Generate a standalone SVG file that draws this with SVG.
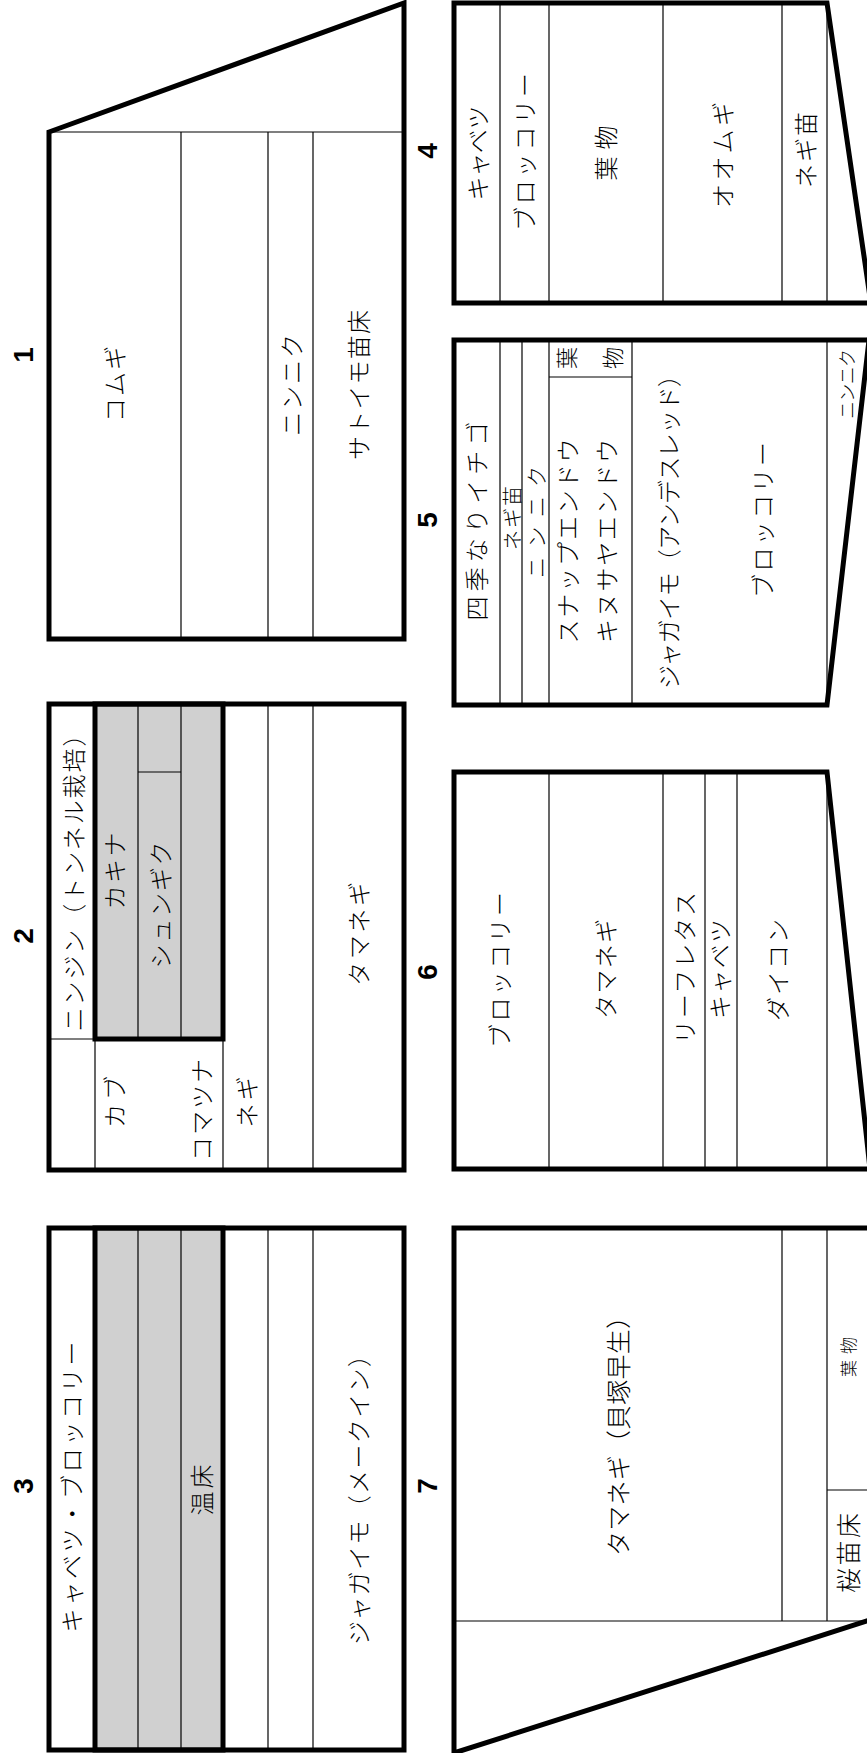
<svg xmlns="http://www.w3.org/2000/svg" width="867" height="1753" viewBox="0 0 867 1753">
<style>
.bg{fill:#ffffff}
.thick{fill:none;stroke:#000;stroke-width:5;stroke-linejoin:miter;stroke-linecap:square}
.thin{fill:none;stroke:#000;stroke-width:1.2}
.gray{fill:#d0d0d0;stroke:#000;stroke-width:5}
.t{font-family:"Noto Sans CJK JP","Noto Sans",sans-serif;font-size:24px;font-weight:300;fill:#000;text-anchor:middle;dominant-baseline:central}
.s{font-size:17px}
.m{font-size:25px}
.n{font-family:"Liberation Sans",Arial,sans-serif;font-size:28px;font-weight:bold;fill:#000;text-anchor:middle;dominant-baseline:central}
</style>
<rect class="bg" x="0" y="0" width="867" height="1753"/>

<g id="labels">
<text class="n" transform="translate(23,355) rotate(-90)">1</text>
<text class="n" transform="translate(23,936) rotate(-90)">2</text>
<text class="n" transform="translate(23,1486) rotate(-90)">3</text>
<text class="n" transform="translate(427,151) rotate(-90)">4</text>
<text class="n" transform="translate(427,520) rotate(-90)">5</text>
<text class="n" transform="translate(427,972) rotate(-90)">6</text>
<text class="n" transform="translate(427,1486) rotate(-90)">7</text>
</g>

<g id="plot1">
<line class="thin" x1="49" y1="132" x2="404" y2="132"/>
<line class="thin" x1="181" y1="132" x2="181" y2="639"/>
<line class="thin" x1="268" y1="132" x2="268" y2="639"/>
<line class="thin" x1="313" y1="132" x2="313" y2="639"/>
<path class="thick" d="M49,132 L404,3 L404,639 L49,639 Z"/>
<text class="t" transform="translate(113,384) rotate(-90)" textLength="76">コムギ</text>
<text class="t" transform="translate(290,385) rotate(-90)" textLength="102">ニンニク</text>
<text class="t" transform="translate(357,385) rotate(-90)" textLength="150">サトイモ苗床</text>
</g>

<g id="plot2">
<line class="thin" x1="49" y1="1039" x2="95" y2="1039"/>
<line class="thin" x1="95" y1="1039" x2="95" y2="1170"/>
<line class="thin" x1="223" y1="1039" x2="223" y2="1170"/>
<line class="thin" x1="268" y1="704" x2="268" y2="1170"/>
<line class="thin" x1="313" y1="704" x2="313" y2="1170"/>
<rect class="gray" x="95" y="704" width="128" height="335"/>
<line class="thin" x1="138" y1="704" x2="138" y2="1039"/>
<line class="thin" x1="181" y1="704" x2="181" y2="1039"/>
<line class="thin" x1="138" y1="772" x2="181" y2="772"/>
<rect class="thick" x="49" y="704" width="355" height="466"/>
<text class="t" transform="translate(72,877) rotate(-90)" textLength="309">ニンジン（トンネル栽培）</text>
<text class="t" transform="translate(113,871) rotate(-90)" textLength="77">カキナ</text>
<text class="t" transform="translate(159,905) rotate(-90)" textLength="127">シュンギク</text>
<text class="t" transform="translate(113,1102) rotate(-90)" textLength="52">カブ</text>
<text class="t" transform="translate(200,1110) rotate(-90)" textLength="102">コマツナ</text>
<text class="t" transform="translate(245,1102) rotate(-90)" textLength="51">ネギ</text>
<text class="t" transform="translate(357,934) rotate(-90)" textLength="104">タマネギ</text>
</g>

<g id="plot3">
<line class="thin" x1="268" y1="1228" x2="268" y2="1750"/>
<line class="thin" x1="313" y1="1228" x2="313" y2="1750"/>
<rect class="gray" x="95" y="1228" width="128" height="522"/>
<line class="thin" x1="138" y1="1228" x2="138" y2="1750"/>
<line class="thin" x1="181" y1="1228" x2="181" y2="1750"/>
<rect class="thick" x="49" y="1228" width="355" height="522"/>
<text class="t" transform="translate(70,1487) rotate(-90)" textLength="291">キャベツ・ブロッコリー</text>
<text class="t" transform="translate(200,1490) rotate(-90)" textLength="51">温床</text>
<text class="t" transform="translate(357,1494) rotate(-90)" textLength="302">ジャガイモ（メークイン）</text>
</g>

<g id="plot4">
<line class="thin" x1="500" y1="3" x2="500" y2="303"/>
<line class="thin" x1="549" y1="3" x2="549" y2="303"/>
<line class="thin" x1="663" y1="3" x2="663" y2="303"/>
<line class="thin" x1="782" y1="3" x2="782" y2="303"/>
<line class="thin" x1="827" y1="3" x2="827" y2="303"/>
<path class="thick" d="M871,304 L827,3 L454,3 L454,303 L870,303"/>
<text class="t" transform="translate(476,153) rotate(-90)" textLength="95">キャベツ</text>
<text class="t" transform="translate(523,152) rotate(-90)" textLength="158">ブロッコリー</text>
<text class="t" transform="translate(604,153) rotate(-90)" textLength="55">葉物</text>
<text class="t" transform="translate(721,155) rotate(-90)" textLength="106">オオムギ</text>
<text class="t" transform="translate(804,150) rotate(-90)" textLength="76">ネギ苗</text>
</g>

<g id="plot5">
<line class="thin" x1="500" y1="340" x2="500" y2="705"/>
<line class="thin" x1="522" y1="340" x2="522" y2="705"/>
<line class="thin" x1="549" y1="340" x2="549" y2="705"/>
<line class="thin" x1="632" y1="340" x2="632" y2="705"/>
<line class="thin" x1="827" y1="340" x2="827" y2="705"/>
<line class="thin" x1="549" y1="377" x2="632" y2="377"/>
<path class="thick" d="M870,340 L454,340 L454,705 L827,705 L869,340"/>
<text class="t" transform="translate(475,521) rotate(-90)" textLength="199">四季なりイチゴ</text>
<text class="t" style="font-size:20px" transform="translate(511,518) rotate(-90)" textLength="64">ネギ苗</text>
<text class="t" style="font-size:21px" transform="translate(535,522) rotate(-90)" textLength="112">ニンニク</text>
<text class="t" style="font-size:22px" transform="translate(565,358) rotate(-90)">葉</text>
<text class="t" style="font-size:22px" transform="translate(611,358) rotate(-90)">物</text>
<text class="t" transform="translate(566,541) rotate(-90)" textLength="205">スナップエンドウ</text>
<text class="t" transform="translate(605,541) rotate(-90)" textLength="204">キヌサヤエンドウ</text>
<text class="t" transform="translate(667,526) rotate(-90)" textLength="326">ジャガイモ（アンデスレッド）</text>
<text class="t" transform="translate(761,520) rotate(-90)" textLength="156">ブロッコリー</text>
<text class="t" style="font-size:18px" transform="translate(846,384) rotate(-90)" textLength="70">ニンニク</text>
</g>

<g id="plot6">
<line class="thin" x1="549" y1="772" x2="549" y2="1169"/>
<line class="thin" x1="663" y1="772" x2="663" y2="1169"/>
<line class="thin" x1="705" y1="772" x2="705" y2="1169"/>
<line class="thin" x1="737" y1="772" x2="737" y2="1169"/>
<line class="thin" x1="827" y1="772" x2="827" y2="1169"/>
<path class="thick" d="M870,1169 L827,772 L454,772 L454,1169 L870,1169"/>
<text class="t" transform="translate(498,970) rotate(-90)" textLength="156">ブロッコリー</text>
<text class="t" transform="translate(604,969) rotate(-90)" textLength="100">タマネギ</text>
<text class="t" transform="translate(683,968) rotate(-90)" textLength="152">リーフレタス</text>
<text class="t" transform="translate(718,969) rotate(-90)" textLength="100">キャベツ</text>
<text class="t" transform="translate(776,970) rotate(-90)" textLength="102">ダイコン</text>
</g>

<g id="plot7">
<line class="thin" x1="454" y1="1621" x2="867" y2="1621"/>
<line class="thin" x1="782" y1="1228" x2="782" y2="1621"/>
<line class="thin" x1="827" y1="1228" x2="827" y2="1621"/>
<line class="thin" x1="827" y1="1490" x2="867" y2="1490"/>
<path class="thick" d="M870,1228 L454,1228 L454,1753 L870,1620"/>
<text class="t m" transform="translate(617,1430) rotate(-90)" textLength="252">タマネギ（貝塚早生）</text>
<text class="t s" transform="translate(847,1357) rotate(-90)" textLength="40">葉物</text>
<text class="t m" transform="translate(847,1553) rotate(-90)" textLength="80">桜苗床</text>
</g>
</svg>
